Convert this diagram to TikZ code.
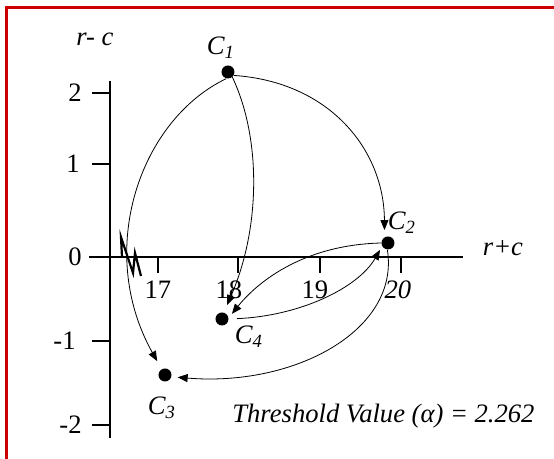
\documentclass[tikz,border=0pt]{standalone}
\usepackage{fontspec}
\setmainfont{Liberation Serif}
\usetikzlibrary{arrows.meta}
\definecolor{framecol}{RGB}{204,0,0}

\begin{document}
\begin{tikzpicture}[
    x=0.5pt, y=-0.5pt,
    dot/.style={circle, fill=black, inner sep=0pt, minimum size=6.5pt},
    lbl/.style={font=\fontsize{13.3}{15}\selectfont, inner sep=0pt},
    axis/.style={line width=1.3pt},
    arrow/.style={-{Triangle[length=5pt, width=4pt]}, line width=0.4pt}
  ]
  \useasboundingbox (0,0) rectangle (554,459);
  % frame
  \draw[framecol, line width=1.5pt] (6.5,459) -- (6.5,7.5) -- (554,7.5);
  % axes and break
  \draw[axis] (110,81) -- (110,438);
  \draw[axis] (89,257) -- (463,257);
  \draw[line width=1.1pt] (122,257) -- (121,237) -- (133,273) -- (135,253) -- (141,276);
  \foreach \y/\t/\x in {93/2/82, 164/1/80, 257/0/82, 341/-1/76, 425/-2/82}{
    \draw[axis] (92,\y) -- (110,\y);
    \node[lbl, anchor=east] (yl\t) at (\x,\y) {\t};
  }
  \foreach \x in {158, 238, 320, 401}
    \draw[axis] (\x,257) -- (\x,273);
  \node[lbl] (xl17) at (158,290) {17};
  \node[lbl] (xl18) at (229,290) {18};
  \node[lbl] (xl19) at (315,290) {19};
  \node[lbl] (xl20) at (398,290) {\textit{20}};
  \node[lbl] (ylab) at (95,39) {\textit{r- c}};
  \node[lbl] (xlab) at (503,248) {\textit{r+c}};

  % clusters
  \node[dot] (c1) at (228,72) {};
  \node[dot] (c2) at (388,243) {};
  \node[dot] (c3) at (165,375) {};
  \node[dot] (c4) at (222,319) {};
  \node[lbl] (c1lbl) at (221,48) {\textit{C\textsubscript{1}}};
  \node[lbl] (c2lbl) at (402,223) {\textit{C\textsubscript{2}}};
  \node[lbl] (c3lbl) at (162,408) {\textit{C\textsubscript{3}}};
  \node[lbl] (c4lbl) at (249,337) {\textit{C\textsubscript{4}}};
  \node[lbl, anchor=base west] (thresh) at (232,423) {\textit{Threshold Value (α) = 2.262}};

  % moves
  \draw[arrow, shorten >=3.5pt] (c1.-30) .. controls (330,82) and (384,150) .. (c2.120);
  \draw[arrow, shorten >=4pt] (c1.-50) .. controls (262,140) and (260,230) .. (c4.75);
  \draw[arrow, shorten >=4.5pt] (c1.-105) .. controls (140,120) and (95,250) .. (c3.120);
  \draw[arrow, shorten >=2.5pt] (c2.180) .. controls (300,245) and (255,285) .. (c4.10);
  \draw[arrow, shorten <=4pt, shorten >=2pt] (c4.east) .. controls (300,316) and (358,288) .. (c2.210);
  \draw[arrow, shorten >=3pt] (c2.-95) .. controls (400,330) and (295,387) .. (c3.-15);
\end{tikzpicture}
\end{document}
